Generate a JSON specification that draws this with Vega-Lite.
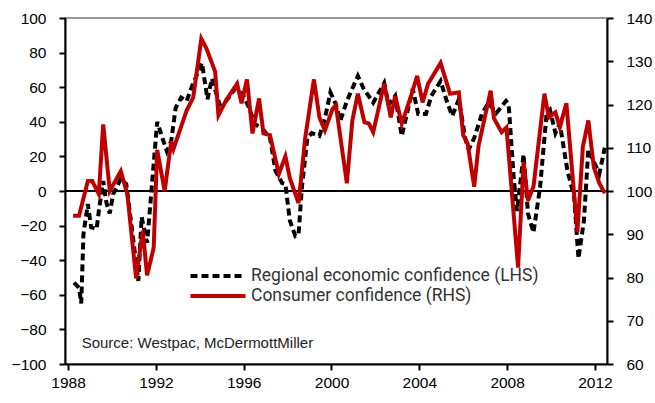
{
  "$schema": "https://vega.github.io/schema/vega-lite/v6.json",
  "width": 542,
  "height": 346,
  "autosize": {"type": "none"},
  "padding": {"left": 65, "top": 18, "right": 48, "bottom": 39},
  "background": "white",
  "config": {
    "view": {"stroke": "#999999", "strokeWidth": 2},
    "axis": {
      "grid": false,
      "domainColor": "black",
      "domainWidth": 2,
      "tickColor": "black",
      "tickWidth": 2,
      "tickSize": 6,
      "labelFont": "Liberation Sans",
      "labelFontSize": 15.5,
      "labelColor": "black",
      "labelOverlap": false,
      "labelFlush": false,
      "title": null
    },
    "legend": {
      "orient": "none",
      "legendX": 144,
      "legendY": 249,
      "padding": 0,
      "symbolType": "M-4,0H4",
      "symbolStrokeWidth": 4,
      "symbolSize": 189,
      "labelFont": "Roboto",
      "labelFontSize": 17.5,
      "labelColor": "#333333",
      "labelOffset": 24,
      "labelLimit": 400,
      "rowPadding": 2,
      "title": null
    }
  },
  "datasets": {
    "series": [
      {"s": "Regional economic confidence (LHS)", "t": 1988.27, "v": -53},
      {"s": "Regional economic confidence (LHS)", "t": 1988.5, "v": -56},
      {"s": "Regional economic confidence (LHS)", "t": 1988.6, "v": -65},
      {"s": "Regional economic confidence (LHS)", "t": 1988.7, "v": -25},
      {"s": "Regional economic confidence (LHS)", "t": 1988.9, "v": -7.5},
      {"s": "Regional economic confidence (LHS)", "t": 1989.05, "v": -21},
      {"s": "Regional economic confidence (LHS)", "t": 1989.3, "v": -22},
      {"s": "Regional economic confidence (LHS)", "t": 1989.4, "v": -11.6},
      {"s": "Regional economic confidence (LHS)", "t": 1989.6, "v": 5.8},
      {"s": "Regional economic confidence (LHS)", "t": 1989.75, "v": -7},
      {"s": "Regional economic confidence (LHS)", "t": 1989.9, "v": -13},
      {"s": "Regional economic confidence (LHS)", "t": 1990.05, "v": -2},
      {"s": "Regional economic confidence (LHS)", "t": 1990.4, "v": 7},
      {"s": "Regional economic confidence (LHS)", "t": 1990.65, "v": 4},
      {"s": "Regional economic confidence (LHS)", "t": 1990.9, "v": -21},
      {"s": "Regional economic confidence (LHS)", "t": 1991.2, "v": -52},
      {"s": "Regional economic confidence (LHS)", "t": 1991.35, "v": -15},
      {"s": "Regional economic confidence (LHS)", "t": 1991.6, "v": -30},
      {"s": "Regional economic confidence (LHS)", "t": 1992.06, "v": 40},
      {"s": "Regional economic confidence (LHS)", "t": 1992.3, "v": 30.6},
      {"s": "Regional economic confidence (LHS)", "t": 1992.5, "v": 23},
      {"s": "Regional economic confidence (LHS)", "t": 1992.7, "v": 29},
      {"s": "Regional economic confidence (LHS)", "t": 1992.9, "v": 48},
      {"s": "Regional economic confidence (LHS)", "t": 1993.15, "v": 54},
      {"s": "Regional economic confidence (LHS)", "t": 1993.4, "v": 52},
      {"s": "Regional economic confidence (LHS)", "t": 1993.65, "v": 60.7},
      {"s": "Regional economic confidence (LHS)", "t": 1994.1, "v": 74},
      {"s": "Regional economic confidence (LHS)", "t": 1994.35, "v": 53},
      {"s": "Regional economic confidence (LHS)", "t": 1994.55, "v": 65},
      {"s": "Regional economic confidence (LHS)", "t": 1994.9, "v": 50},
      {"s": "Regional economic confidence (LHS)", "t": 1995.2, "v": 52},
      {"s": "Regional economic confidence (LHS)", "t": 1995.6, "v": 59},
      {"s": "Regional economic confidence (LHS)", "t": 1995.95, "v": 56},
      {"s": "Regional economic confidence (LHS)", "t": 1996.25, "v": 48},
      {"s": "Regional economic confidence (LHS)", "t": 1996.5, "v": 38.7},
      {"s": "Regional economic confidence (LHS)", "t": 1996.85, "v": 36},
      {"s": "Regional economic confidence (LHS)", "t": 1997.2, "v": 30.6},
      {"s": "Regional economic confidence (LHS)", "t": 1997.45, "v": 11.6},
      {"s": "Regional economic confidence (LHS)", "t": 1997.75, "v": 4.6},
      {"s": "Regional economic confidence (LHS)", "t": 1997.9, "v": 4},
      {"s": "Regional economic confidence (LHS)", "t": 1998.1, "v": -17},
      {"s": "Regional economic confidence (LHS)", "t": 1998.35, "v": -26},
      {"s": "Regional economic confidence (LHS)", "t": 1998.5, "v": -25},
      {"s": "Regional economic confidence (LHS)", "t": 1998.65, "v": 2},
      {"s": "Regional economic confidence (LHS)", "t": 1998.9, "v": 30.6},
      {"s": "Regional economic confidence (LHS)", "t": 1999.1, "v": 33.5},
      {"s": "Regional economic confidence (LHS)", "t": 1999.45, "v": 31.8},
      {"s": "Regional economic confidence (LHS)", "t": 1999.7, "v": 42},
      {"s": "Regional economic confidence (LHS)", "t": 1999.95, "v": 57},
      {"s": "Regional economic confidence (LHS)", "t": 2000.2, "v": 50},
      {"s": "Regional economic confidence (LHS)", "t": 2000.4, "v": 40.5},
      {"s": "Regional economic confidence (LHS)", "t": 2000.7, "v": 52},
      {"s": "Regional economic confidence (LHS)", "t": 2001.2, "v": 66.5},
      {"s": "Regional economic confidence (LHS)", "t": 2001.45, "v": 59.5},
      {"s": "Regional economic confidence (LHS)", "t": 2001.9, "v": 51},
      {"s": "Regional economic confidence (LHS)", "t": 2002.4, "v": 62.4},
      {"s": "Regional economic confidence (LHS)", "t": 2002.6, "v": 50},
      {"s": "Regional economic confidence (LHS)", "t": 2002.9, "v": 55},
      {"s": "Regional economic confidence (LHS)", "t": 2003.2, "v": 31.8},
      {"s": "Regional economic confidence (LHS)", "t": 2003.7, "v": 59},
      {"s": "Regional economic confidence (LHS)", "t": 2003.95, "v": 44.5},
      {"s": "Regional economic confidence (LHS)", "t": 2004.3, "v": 44.5},
      {"s": "Regional economic confidence (LHS)", "t": 2004.55, "v": 55},
      {"s": "Regional economic confidence (LHS)", "t": 2004.97, "v": 63.6},
      {"s": "Regional economic confidence (LHS)", "t": 2005.25, "v": 52},
      {"s": "Regional economic confidence (LHS)", "t": 2005.5, "v": 43.4},
      {"s": "Regional economic confidence (LHS)", "t": 2005.8, "v": 53},
      {"s": "Regional economic confidence (LHS)", "t": 2006.1, "v": 30},
      {"s": "Regional economic confidence (LHS)", "t": 2006.25, "v": 24},
      {"s": "Regional economic confidence (LHS)", "t": 2006.5, "v": 30.6},
      {"s": "Regional economic confidence (LHS)", "t": 2006.85, "v": 44.5},
      {"s": "Regional economic confidence (LHS)", "t": 2007.15, "v": 51},
      {"s": "Regional economic confidence (LHS)", "t": 2007.5, "v": 45},
      {"s": "Regional economic confidence (LHS)", "t": 2007.95, "v": 52},
      {"s": "Regional economic confidence (LHS)", "t": 2008.07, "v": 50},
      {"s": "Regional economic confidence (LHS)", "t": 2008.3, "v": 7.5},
      {"s": "Regional economic confidence (LHS)", "t": 2008.45, "v": -11.6},
      {"s": "Regional economic confidence (LHS)", "t": 2008.75, "v": 21},
      {"s": "Regional economic confidence (LHS)", "t": 2008.95, "v": -13},
      {"s": "Regional economic confidence (LHS)", "t": 2009.2, "v": -24},
      {"s": "Regional economic confidence (LHS)", "t": 2009.5, "v": 2},
      {"s": "Regional economic confidence (LHS)", "t": 2009.8, "v": 45},
      {"s": "Regional economic confidence (LHS)", "t": 2009.95, "v": 47},
      {"s": "Regional economic confidence (LHS)", "t": 2010.2, "v": 33.5},
      {"s": "Regional economic confidence (LHS)", "t": 2010.4, "v": 39},
      {"s": "Regional economic confidence (LHS)", "t": 2010.75, "v": 11.6},
      {"s": "Regional economic confidence (LHS)", "t": 2011.05, "v": -3},
      {"s": "Regional economic confidence (LHS)", "t": 2011.25, "v": -39},
      {"s": "Regional economic confidence (LHS)", "t": 2011.5, "v": -17},
      {"s": "Regional economic confidence (LHS)", "t": 2011.7, "v": 24},
      {"s": "Regional economic confidence (LHS)", "t": 2012.0, "v": 15.6},
      {"s": "Regional economic confidence (LHS)", "t": 2012.2, "v": 10},
      {"s": "Regional economic confidence (LHS)", "t": 2012.45, "v": 25},
      {"s": "Consumer confidence (RHS)", "t": 1988.23, "v": 94.3},
      {"s": "Consumer confidence (RHS)", "t": 1988.5, "v": 94.3},
      {"s": "Consumer confidence (RHS)", "t": 1988.9, "v": 102.3},
      {"s": "Consumer confidence (RHS)", "t": 1989.1, "v": 102.3},
      {"s": "Consumer confidence (RHS)", "t": 1989.4, "v": 99.3},
      {"s": "Consumer confidence (RHS)", "t": 1989.6, "v": 115.4},
      {"s": "Consumer confidence (RHS)", "t": 1989.9, "v": 100},
      {"s": "Consumer confidence (RHS)", "t": 1990.4, "v": 104.6},
      {"s": "Consumer confidence (RHS)", "t": 1990.7, "v": 99.3},
      {"s": "Consumer confidence (RHS)", "t": 1991.1, "v": 79.8},
      {"s": "Consumer confidence (RHS)", "t": 1991.4, "v": 90.8},
      {"s": "Consumer confidence (RHS)", "t": 1991.6, "v": 80.5},
      {"s": "Consumer confidence (RHS)", "t": 1991.9, "v": 86.9},
      {"s": "Consumer confidence (RHS)", "t": 1992.06, "v": 109.5},
      {"s": "Consumer confidence (RHS)", "t": 1992.4, "v": 100},
      {"s": "Consumer confidence (RHS)", "t": 1992.7, "v": 111.5},
      {"s": "Consumer confidence (RHS)", "t": 1992.8, "v": 109.7},
      {"s": "Consumer confidence (RHS)", "t": 1993.4, "v": 118.6},
      {"s": "Consumer confidence (RHS)", "t": 1993.7, "v": 121.6},
      {"s": "Consumer confidence (RHS)", "t": 1994.07, "v": 135.2},
      {"s": "Consumer confidence (RHS)", "t": 1994.3, "v": 133},
      {"s": "Consumer confidence (RHS)", "t": 1994.7, "v": 127.6},
      {"s": "Consumer confidence (RHS)", "t": 1994.85, "v": 117.5},
      {"s": "Consumer confidence (RHS)", "t": 1995.2, "v": 121},
      {"s": "Consumer confidence (RHS)", "t": 1995.7, "v": 124.8},
      {"s": "Consumer confidence (RHS)", "t": 1995.9, "v": 120.3},
      {"s": "Consumer confidence (RHS)", "t": 1996.15, "v": 125.8},
      {"s": "Consumer confidence (RHS)", "t": 1996.4, "v": 113.3},
      {"s": "Consumer confidence (RHS)", "t": 1996.7, "v": 121.4},
      {"s": "Consumer confidence (RHS)", "t": 1996.9, "v": 113.3},
      {"s": "Consumer confidence (RHS)", "t": 1997.2, "v": 112.9},
      {"s": "Consumer confidence (RHS)", "t": 1997.6, "v": 103.9},
      {"s": "Consumer confidence (RHS)", "t": 1997.9, "v": 108},
      {"s": "Consumer confidence (RHS)", "t": 1998.1, "v": 103},
      {"s": "Consumer confidence (RHS)", "t": 1998.5, "v": 97.2},
      {"s": "Consumer confidence (RHS)", "t": 1998.8, "v": 112.2},
      {"s": "Consumer confidence (RHS)", "t": 1999.2, "v": 125.8},
      {"s": "Consumer confidence (RHS)", "t": 1999.45, "v": 117},
      {"s": "Consumer confidence (RHS)", "t": 1999.7, "v": 114},
      {"s": "Consumer confidence (RHS)", "t": 2000.05, "v": 119},
      {"s": "Consumer confidence (RHS)", "t": 2000.2, "v": 119.8},
      {"s": "Consumer confidence (RHS)", "t": 2000.7, "v": 101.8},
      {"s": "Consumer confidence (RHS)", "t": 2000.95, "v": 116.3},
      {"s": "Consumer confidence (RHS)", "t": 2001.2, "v": 122.5},
      {"s": "Consumer confidence (RHS)", "t": 2001.5, "v": 115.9},
      {"s": "Consumer confidence (RHS)", "t": 2001.7, "v": 115.6},
      {"s": "Consumer confidence (RHS)", "t": 2001.9, "v": 113.6},
      {"s": "Consumer confidence (RHS)", "t": 2002.4, "v": 124.8},
      {"s": "Consumer confidence (RHS)", "t": 2002.7, "v": 117},
      {"s": "Consumer confidence (RHS)", "t": 2002.9, "v": 122},
      {"s": "Consumer confidence (RHS)", "t": 2003.2, "v": 115.6},
      {"s": "Consumer confidence (RHS)", "t": 2003.6, "v": 121.6},
      {"s": "Consumer confidence (RHS)", "t": 2003.9, "v": 126.6},
      {"s": "Consumer confidence (RHS)", "t": 2004.15, "v": 120.5},
      {"s": "Consumer confidence (RHS)", "t": 2004.4, "v": 124.8},
      {"s": "Consumer confidence (RHS)", "t": 2004.97, "v": 129.6},
      {"s": "Consumer confidence (RHS)", "t": 2005.4, "v": 122.5},
      {"s": "Consumer confidence (RHS)", "t": 2005.8, "v": 122.8},
      {"s": "Consumer confidence (RHS)", "t": 2006.0, "v": 112.9},
      {"s": "Consumer confidence (RHS)", "t": 2006.2, "v": 111},
      {"s": "Consumer confidence (RHS)", "t": 2006.5, "v": 101},
      {"s": "Consumer confidence (RHS)", "t": 2006.7, "v": 110.5},
      {"s": "Consumer confidence (RHS)", "t": 2007.25, "v": 123.2},
      {"s": "Consumer confidence (RHS)", "t": 2007.4, "v": 116.8},
      {"s": "Consumer confidence (RHS)", "t": 2007.75, "v": 113.6},
      {"s": "Consumer confidence (RHS)", "t": 2007.97, "v": 114.7},
      {"s": "Consumer confidence (RHS)", "t": 2008.5, "v": 82.3},
      {"s": "Consumer confidence (RHS)", "t": 2008.75, "v": 106.7},
      {"s": "Consumer confidence (RHS)", "t": 2008.95, "v": 97.8},
      {"s": "Consumer confidence (RHS)", "t": 2009.2, "v": 101},
      {"s": "Consumer confidence (RHS)", "t": 2009.7, "v": 122.5},
      {"s": "Consumer confidence (RHS)", "t": 2009.9, "v": 117},
      {"s": "Consumer confidence (RHS)", "t": 2010.2, "v": 118.2},
      {"s": "Consumer confidence (RHS)", "t": 2010.4, "v": 114.7},
      {"s": "Consumer confidence (RHS)", "t": 2010.7, "v": 120.3},
      {"s": "Consumer confidence (RHS)", "t": 2011.2, "v": 90.5},
      {"s": "Consumer confidence (RHS)", "t": 2011.45, "v": 110.2},
      {"s": "Consumer confidence (RHS)", "t": 2011.7, "v": 116.3},
      {"s": "Consumer confidence (RHS)", "t": 2011.95, "v": 105.5},
      {"s": "Consumer confidence (RHS)", "t": 2012.2, "v": 101.8},
      {"s": "Consumer confidence (RHS)", "t": 2012.45, "v": 99.5}
    ]
  },
  "layer": [
    {
      "layer": [
        {
          "data": {"values": [{"z": 0}]},
          "mark": {"type": "rule", "color": "black", "strokeWidth": 2},
          "encoding": {
            "y": {
              "field": "z", "type": "quantitative",
              "scale": {"domain": [-100, 100], "nice": false},
              "axis": {"orient": "left", "values": [-100, -80, -60, -40, -20, 0, 20, 40, 60, 80, 100], "labelPadding": 13, "labelOverlap": false}
            }
          }
        },
        {
          "data": {"values": [{"label": "Source: Westpac, McDermottMiller", "tx": 1988.62, "ty": -91}]},
          "mark": {"type": "text", "align": "left", "baseline": "alphabetic", "font": "Liberation Sans", "fontSize": 15, "color": "#222222"},
          "encoding": {
            "x": {
              "field": "tx", "type": "quantitative",
              "scale": {"domain": [1987.86, 2012.55], "nice": false, "zero": false},
              "axis": {"values": [1988, 1992, 1996, 2000, 2004, 2008, 2012], "format": "d", "labelPadding": 5, "labelOverlap": false}
            },
            "y": {
              "field": "ty", "type": "quantitative",
              "scale": {"domain": [-100, 100], "nice": false},
              "axis": {"orient": "left", "values": [-100, -80, -60, -40, -20, 0, 20, 40, 60, 80, 100], "labelPadding": 13, "labelOverlap": false}
            },
            "text": {"field": "label"}
          }
        },
        {
          "data": {"name": "series"},
          "transform": [{"filter": "datum.s === 'Regional economic confidence (LHS)'"}],
          "mark": {"type": "line", "strokeWidth": 4, "strokeCap": "butt"},
          "encoding": {
            "x": {
              "field": "t", "type": "quantitative",
              "scale": {"domain": [1987.86, 2012.55], "nice": false, "zero": false},
              "axis": {"values": [1988, 1992, 1996, 2000, 2004, 2008, 2012], "format": "d", "labelPadding": 5, "labelOverlap": false}
            },
            "y": {
              "field": "v", "type": "quantitative",
              "scale": {"domain": [-100, 100], "nice": false},
              "axis": {"orient": "left", "values": [-100, -80, -60, -40, -20, 0, 20, 40, 60, 80, 100], "labelPadding": 13, "labelOverlap": false}
            },
            "color": {
              "field": "s", "type": "nominal",
              "scale": {"domain": ["Regional economic confidence (LHS)", "Consumer confidence (RHS)"], "range": ["#000000", "#C00000"]}
            },
            "strokeDash": {
              "field": "s", "type": "nominal",
              "scale": {"domain": ["Regional economic confidence (LHS)", "Consumer confidence (RHS)"], "range": [[7, 4], [1, 0]]}
            }
          }
        }
      ]
    },
    {
      "data": {"name": "series"},
      "transform": [{"filter": "datum.s === 'Consumer confidence (RHS)'"}],
      "mark": {"type": "line", "strokeWidth": 4},
      "encoding": {
        "x": {
          "field": "t", "type": "quantitative",
          "scale": {"domain": [1987.86, 2012.55], "nice": false, "zero": false},
          "axis": {"values": [1988, 1992, 1996, 2000, 2004, 2008, 2012], "format": "d", "labelPadding": 5, "labelOverlap": false}
        },
        "y": {
          "field": "v", "type": "quantitative",
          "scale": {"domain": [60, 140], "nice": false, "zero": false},
          "axis": {"orient": "right", "values": [60, 70, 80, 90, 100, 110, 120, 130, 140], "labelPadding": 13, "labelOverlap": false}
        },
        "color": {"field": "s", "type": "nominal", "scale": {"domain": ["Regional economic confidence (LHS)", "Consumer confidence (RHS)"], "range": ["#000000", "#C00000"]}},
        "strokeDash": {"field": "s", "type": "nominal", "scale": {"domain": ["Regional economic confidence (LHS)", "Consumer confidence (RHS)"], "range": [[7, 4], [1, 0]]}}
      }
    }
  ],
  "resolve": {"scale": {"y": "independent"}}
}
